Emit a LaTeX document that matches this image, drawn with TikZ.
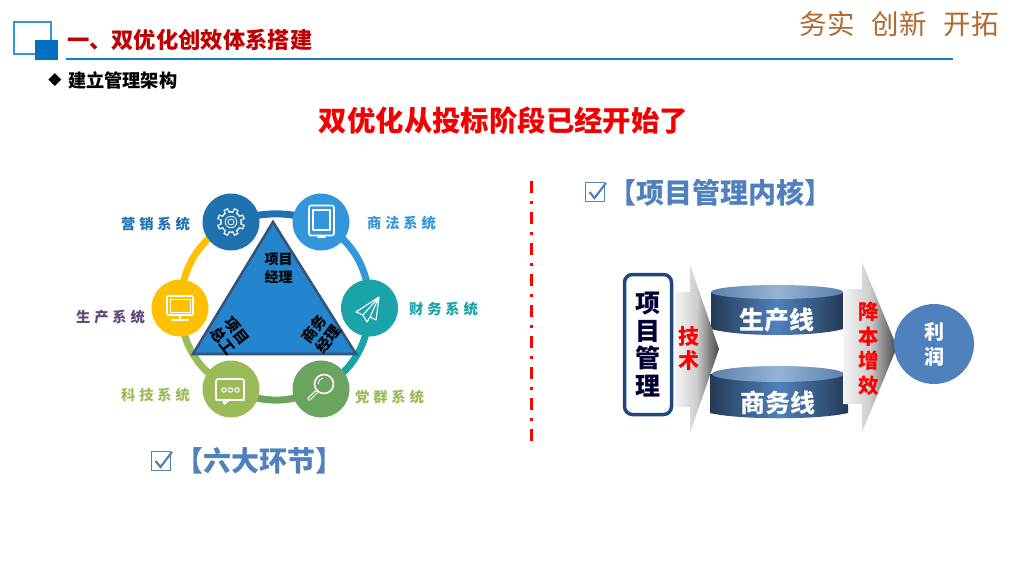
\documentclass[tikz,border=0pt]{standalone}
\usepackage{fontspec}
\usepackage{xcolor}
\usetikzlibrary{backgrounds}
\newfontfamily\cjk{Noto Sans CJK SC}
\newfontfamily\cjkwide[LetterSpace=27]{Noto Sans CJK SC}
\newfontfamily\sym{DejaVu Sans}
\definecolor{ctitle}{HTML}{C00000}
\definecolor{cline}{HTML}{0F7FD2}
\definecolor{cbox}{HTML}{0070C0}
\definecolor{cslogan}{HTML}{B0692E}
\definecolor{chead}{HTML}{4F81BD}
\definecolor{cdark}{HTML}{1F72AE}
\definecolor{cblue}{HTML}{3496DA}
\definecolor{cteal}{HTML}{1BA3AA}
\definecolor{cgreen}{HTML}{6BA45E}
\definecolor{clime}{HTML}{9BBB59}
\definecolor{cyellow}{HTML}{FFC000}
\definecolor{cpurple}{HTML}{60497A}
\definecolor{ctri}{HTML}{2485CE}
\definecolor{cnavy}{HTML}{1F497D}
\newcommand{\zh}[2]{\fontsize{#1}{#2}\selectfont\cjk\bfseries}
\tikzset{
  txt/.style={inner sep=0pt, outer sep=0pt, align=center},
  sysnode/.style={circle, fill=#1, minimum size=57pt, inner sep=0pt},
  syslabel/.style={txt, text=#1, font=\fontsize{14.3}{16}\selectfont\cjkwide\bfseries},
  ringpart/.style={draw=#1, line width=7pt},
  icon/.style={draw=white, line width=1.6pt, line join=round, line cap=round},
  flow/.style={shade, left color=black!4, right color=black!72, middle color=black!20},
  cylbody/.style={shade, left color=chead!45!black, right color=chead!45!black, middle color=chead},
  cyltop/.style={shade, left color=chead!75!gray, right color=chead!75!gray, middle color=chead!60!white},
  tick/.style={draw=chead, line width=1.8pt},
}
\begin{document}
\begin{tikzpicture}[x=1pt, y=-1pt]
  \useasboundingbox (0,0) rectangle (1024,576);

  % header
  \draw[cline!85!white, line width=2.2pt] (14,22) rectangle (51,54);
  \fill[cbox] (35,40) rectangle (58,60);
  \draw[cline, line width=2pt] (66,58.5) -- (953,58.5);
  \node[txt, anchor=west, text=ctitle, font=\zh{22.3}{24}] (title) at (67,40) {一、双优化创效体系搭建};
  \node[txt, text=black, font=\fontsize{17}{19}\selectfont\sym] (bullet) at (55,80) {◆};
  \node[txt, anchor=west, font=\zh{18.2}{20}] (sub) at (68,80) {建立管理架构};
  \node[txt, text=cslogan, font=\fontsize{27.5}{29}\selectfont\cjk] (slogan) at (899,24) {务实\hspace{17pt}创新\hspace{17pt}开拓};
  \node[txt, text=red!95!black, font=\zh{28.4}{30}] (headline) at (503.5,121) {双优化从投标阶段已经开始了};

  % ring
  \node[sysnode=cdark] (market) at (231,222) {};
  \node[sysnode=cblue] (law) at (321,222) {};
  \node[sysnode=cteal] (finance) at (369.5,308) {};
  \node[sysnode=cgreen] (party) at (321,389) {};
  \node[sysnode=clime] (tech) at (231,389) {};
  \node[sysnode=cyellow] (prod) at (180,308) {};
  \begin{scope}[on background layer]
    \draw[ringpart=cdark] (market.center) to[bend left=18] (law.center);
    \draw[ringpart=cblue] (law.center) to[bend left=29] (finance.center);
    \draw[ringpart=cteal] (finance.center) to[bend left=29] (party.center);
    \draw[ringpart=cgreen] (party.center) to[bend left=25] (tech.center);
    \draw[ringpart=clime] (tech.center) to[bend left=29] (prod.center);
    \draw[ringpart=cyellow] (prod.center) to[bend left=29] (market.center);
  \end{scope}

  % icons
  \begin{scope}[shift={(231,222)}]
    \foreach \a in {0,45,...,315}
      \draw[white, line width=5pt] (\a+22.5:9) -- (\a+22.5:14);
    \fill[white] (0,0) circle (11pt);
    \foreach \a in {0,45,...,315}
      \draw[cdark, line width=2.6pt] (\a+22.5:8) -- (\a+22.5:12.6);
    \fill[cdark] (0,0) circle (9.5pt);
    \draw[white, line width=.8pt] (0,0) circle (5.8pt) (0,0) circle (3pt);
  \end{scope}
  \draw[icon, rounded corners=2pt] (309,205.5) rectangle (334,235.5);
  \draw[icon, line width=1.2pt] (313,210) rectangle (330,230);
  \draw[icon] (318,237) -- (325,237);
  \draw[icon, line width=1.1pt] (379,297) -- (356,312) -- (363,315) -- (367,322) -- (370,317) -- (376,320) -- cycle
    (379,297) -- (363,315) (379,297) -- (370,317);
  \draw[icon, rounded corners=1pt] (167,296) rectangle (193,315);
  \draw[icon, line width=.8pt] (170,299) rectangle (190,312);
  \draw[icon] (180,316) -- (180,318) (172,320) -- (188,320);
  \draw[icon, rounded corners=2pt] (216,379) rectangle (244,400) -- (228,400) -- (224,405) -- (224,400) -- (216,400);
  \foreach \i in {224,230.5,237}
    \draw[icon, line width=1pt] (\i,390) circle (2.2pt);
  \draw[icon] (324,384) circle (9.5pt);
  \draw[icon, line width=3.6pt] (316,392) -- (309,399);
  \draw[cgreen, line width=1.4pt, line cap=round] (316,392) -- (309,399);
  \draw[icon, line width=.9pt] (318,384) to[bend left=40] (323,378);

  % labels
  \node[syslabel=cdark] (lmarket) at (155.5,224) {营销系统};
  \node[syslabel=cblue] (llaw) at (401.5,223) {商法系统};
  \node[syslabel=cteal] (lfinance) at (443.5,309) {财务系统};
  \node[syslabel=clime] (lparty) at (389.5,397) {党群系统};
  \node[syslabel=clime] (ltech) at (155.5,395) {科技系统};
  \node[syslabel=cpurple] (lprod) at (110.5,317) {生产系统};

  % triangle
  \draw[fill=ctri, draw=chead!65!black, line width=2.6pt, line join=miter]
    (273,222) -- (356,354) -- (193,354) -- cycle;
  \node[txt, font=\zh{14}{18}] (pm) at (278.5,268.5) {项目\\经理};
  \node[txt, rotate=-52, font=\zh{15}{17}] (chief) at (230,336) {项目\\总工};
  \node[txt, rotate=52, font=\zh{15}{17}] (biz) at (321,334) {商务\\经理};

  % six links heading
  \draw[tick] (151.5,451.5) rectangle (170.5,470.5);
  \draw[tick, line width=2.2pt] (155.5,461) -- (160.5,467) -- (172,452);
  \node[txt, text=chead, font=\zh{28}{30}] (six) at (259.5,461) {【六大环节】};

  % divider
  \draw[red, line width=3pt, dash pattern=on 12pt off 8pt on 3pt off 8pt] (531,181) -- (531,443);

  % core heading
  \draw[tick] (585.5,182.5) rectangle (604.5,201.5);
  \draw[tick, line width=2.2pt] (589.5,192) -- (594.5,198) -- (606,183);
  \node[txt, text=chead, font=\zh{28}{30}] (core) at (720.5,193) {【项目管理内核】};

  % cylinders
  \path[cylbody] (711,292) -- (711,329) .. controls (740,337) and (814,337) .. (843,329) -- (843,292) -- cycle;
  \path[cyltop] (777,292) ellipse [x radius=66, y radius=7];
  \path[cylbody] (710,374) -- (710,413) .. controls (740,420) and (818,420) .. (848,413) -- (848,374) -- cycle;
  \path[cyltop] (778,374) ellipse [x radius=66, y radius=8];

  % arrows
  \path[flow] (675,292) -- (690,292) -- (690,265) -- (719,349) -- (690,433) -- (690,407) -- (675,407) -- cycle;
  \path[flow] (843,289) -- (862,289) -- (862,262) -- (897,347) -- (862,432) -- (862,404) -- (843,404) -- cycle;

  % core nodes
  \node[txt, draw=cnavy, line width=3.5pt, rounded corners=8pt, fill=white,
    minimum width=47pt, minimum height=140pt, text=black!80!blue, font=\zh{25}{27.5}] (pmbox) at (648,344.5) {项\\目\\管\\理};
  \node[txt, text=white, font=\zh{25}{27}] (line1) at (777,320) {生产线};
  \node[txt, text=white, font=\zh{25}{27}] (line2) at (778,403) {商务线};
  \node[txt, text=red, font=\zh{21}{24}] (skill) at (689,349) {技\\术};
  \node[txt, text=red, font=\zh{20.5}{24.5}] (gain) at (869,349) {降\\本\\增\\效};
  \node[circle, fill=chead, minimum size=80pt, inner sep=0pt, text=white, align=center, font=\zh{20}{25}] (profit) at (934,344) {利\\润};
\end{tikzpicture}
\end{document}
